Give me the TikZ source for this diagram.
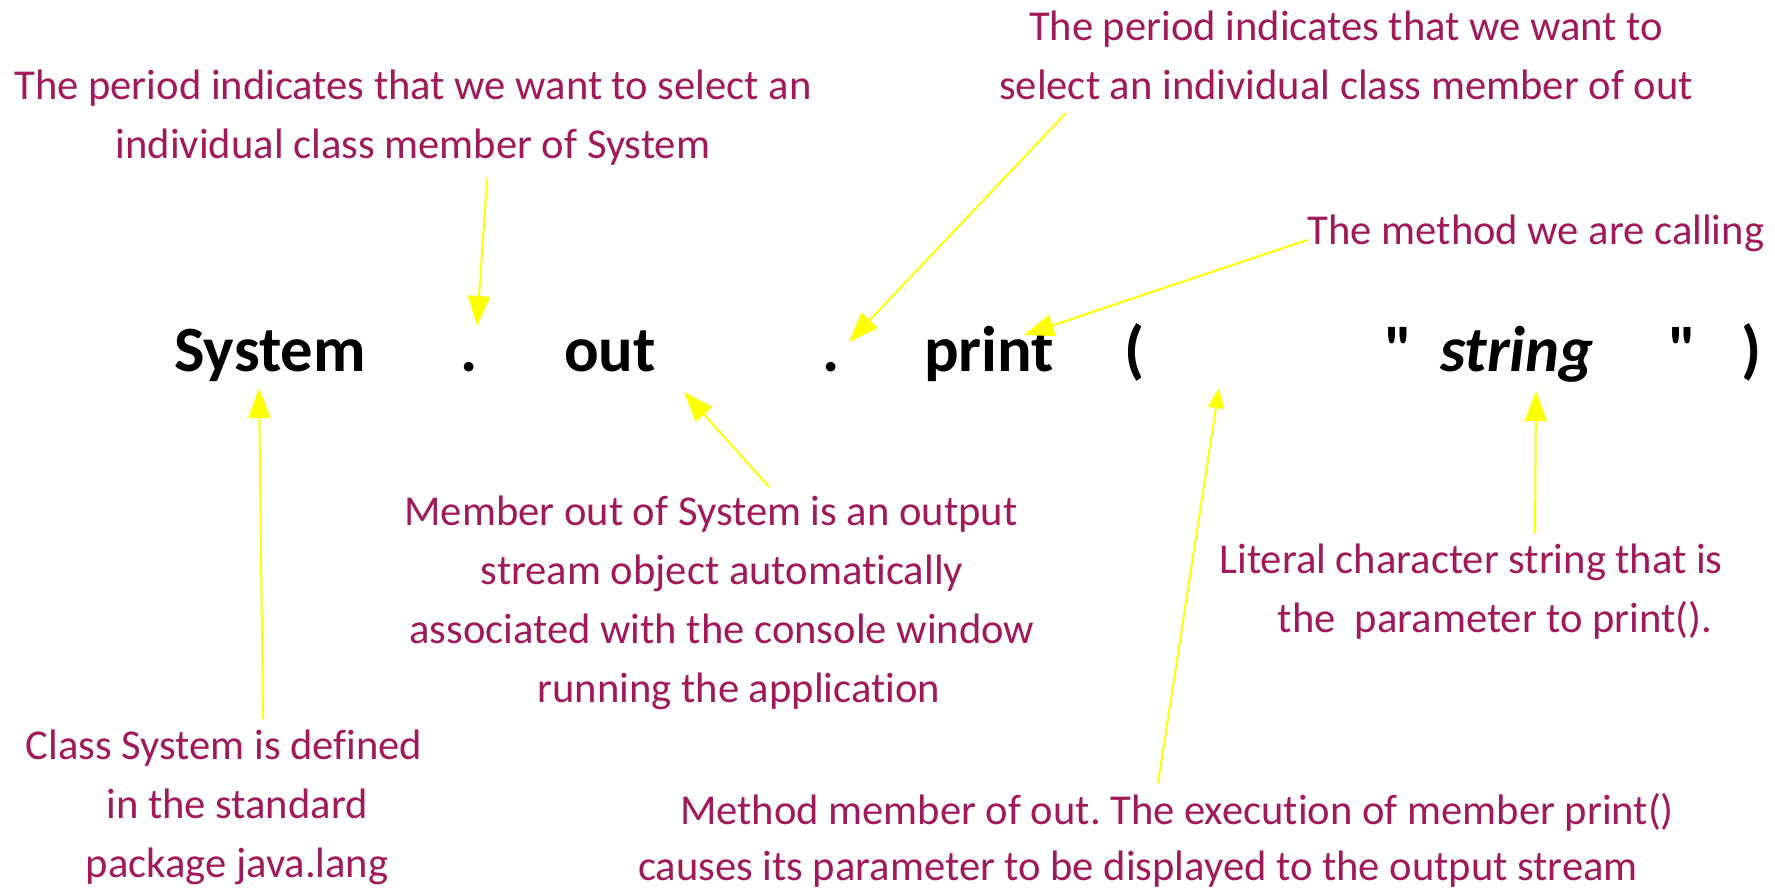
\documentclass[tikz,border=0pt]{standalone}
\usepackage{fontspec}
\setmainfont{Carlito}[Ligatures={NoCommon}]
\newfontfamily\codefont{Carlito}
\usetikzlibrary{arrows.meta,calc}
\definecolor{berry}{RGB}{160,25,90}
\definecolor{pointer}{RGB}{255,255,0}
\frenchspacing
\begin{document}
\begin{tikzpicture}[x=0.5pt,y=-0.5pt,
  note/.style={text=berry, font=\fontsize{21.3}{29.5}\selectfont, inner sep=0pt, align=center},
  code/.style={font=\codefont\fontsize{32.3}{36}\selectfont\bfseries, anchor=base, inner sep=0pt},
  pointer/.style={draw=pointer, line width=1pt, -{Triangle[length=15pt,width=11pt]}},
  smallpointer/.style={pointer, -{Triangle[length=10pt,width=8pt]}}]
\useasboundingbox (0,0) rectangle (1775,890);

% the statement itself
\node[code] (system) at (270,371) {System};
\node[code] (dot1)   at (469,371) {.};
\node[code] (out)    at (610,371) {out};
\node[code] (dot2)   at (831,371) {.};
\node[code] (print)  at (989,371) {print};
\node[code] (lpar)   at (1135,371) {(};
\node[code] (q1)     at (1399,371) {"};
\node[code] (str)    at (1517,371) {\itshape string};
\node[code] (q2)     at (1683,371) {"};
\node[code] (rpar)   at (1752,371) {)};

% explanations
\node[note] (tl)   at (413,118) {The period indicates that we want to select an\\individual class member of System};
\node[note] (tr)   at (1346,55) {The period indicates that we want to\\select an individual class member of out};
\node[note] (mc)   at (1536,233) {The method we are calling};
\node[note] (mid)  at (722,603) {Member out of System is an output\hspace*{11pt}\\stream object automatically\\associated with the console window\\\hspace*{17pt}running the application};
\node[note] (bl)   at (224,807) {Class System is defined\\\hspace*{13pt}in the standard\\\hspace*{13pt}package java.lang};
\node[note] (bot1) at (1177,812) {Method member of out. The execution of member print()};
\node[note] (bot2) at (1138,869) {causes its parameter to be displayed to the output stream};
\node[note] (lit)  at (1471,592) {Literal character string that is\\\hspace*{24pt}the\ \ parameter to print().};

% arrow tips
\coordinate (t1) at (477,326);
\coordinate (t2) at (849,342);
\coordinate (t3) at (1024,335);
\coordinate (t4) at (684,392);
\coordinate (t5) at (259,388);
\coordinate (t6) at (1219,388);
\coordinate (t7) at (1536,391);

% pointers
\draw[pointer] ($(tl)+(74,61)$) -- (t1);
\draw[pointer] ($(tr)+(-280,58)$) -- (t2);
\draw[pointer] ($(mc)+(-229,7)$) -- (t3);
\draw[pointer] ($(mid)+(47,-116)$) -- (t4);
\draw[pointer] ($(bl)+(39,-88)$) -- (t5);
\draw[smallpointer] ($(bot1)+(-19,-29)$) -- (t6);
\draw[pointer] ($(lit)+(64,-59)$) -- (t7);
\end{tikzpicture}
\end{document}
